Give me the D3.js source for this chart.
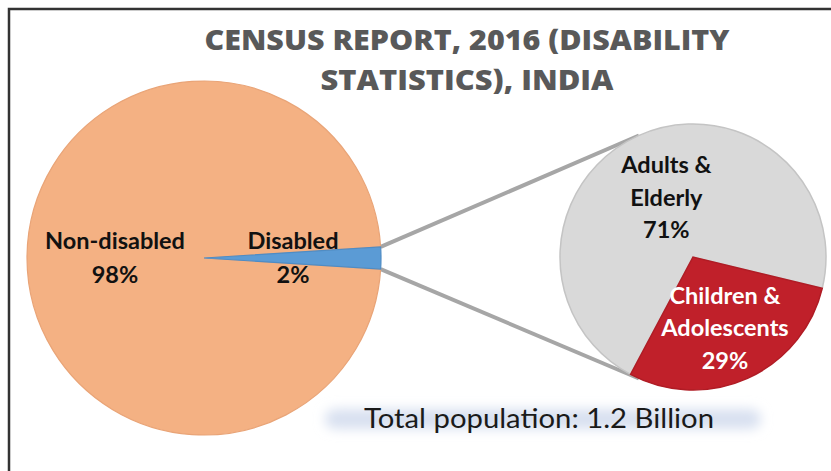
<!DOCTYPE html>
<html>
<head>
<meta charset="utf-8">
<script src="https://cdn.jsdelivr.net/npm/d3@7"></script>
<style>
    body { margin: 0; background: #fff; }
    svg { display: block; }
    text { font-family: Lato, "Open Sans", sans-serif; }
</style>
</head>
<body>
<div id="chart"></div>
<script>
// Chart data
const titleLines = ["CENSUS REPORT, 2016 (DISABILITY", "STATISTICS), INDIA"];
const mainCategories = ["Non-disabled", "Disabled"];
const mainValues = [98, 2];
const mainColors = ["#F4B183", "#5B9BD5"];
const subCategories = [["Adults &", "Elderly"], ["Children &", "Adolescents"]];
const subValues = [71, 29];
const subColors = ["#D9D9D9", "#C0202A"];
const subTextColors = ["#111", "#fff"];
const totalLabel = "Total population: 1.2 Billion";

const width = 831, height = 471;

const svg = d3.select("#chart").append("svg")
    .attr("width", width)
    .attr("height", height);

// Blur filter for the glow behind the total label
const defs = svg.append("defs");
defs.append("filter")
    .attr("id", "glow")
    .attr("x", "-20%").attr("y", "-150%")
    .attr("width", "140%").attr("height", "400%")
    .append("feGaussianBlur")
    .attr("stdDeviation", 6);

// Frame (only top and left edges are visible)
svg.append("path")
    .attr("d", `M9,${height} L9,9 L${width},9`)
    .attr("fill", "none")
    .attr("stroke", "#333")
    .attr("stroke-width", 2.5);

// Title
svg.selectAll(".title")
    .data(titleLines)
    .join("text")
    .attr("class", "title")
    .attr("x", 467)
    .attr("y", (d, i) => 50 + i * 40)
    .attr("text-anchor", "middle")
    .attr("textLength", (d, i) => i === 0 ? 525 : 293)
    .attr("lengthAdjust", "spacingAndGlyphs")
    .style("font-family", "'Open Sans', Lato, sans-serif")
    .style("font-size", "29px")
    .style("font-weight", "800")
    .style("fill", "#595959")
    .text(d => d);

// Geometry of the two pies
const main = { cx: 204, cy: 258, r: 177 };
const sub = { cx: 693, cy: 257, r: 133 };
const connectorAngle = 24 * Math.PI / 180; // where connectors meet the second pie

// Main pie: disabled slice centred on the right-hand side
const disabledShare = mainValues[1] / d3.sum(mainValues);
const mainStart = Math.PI / 2 + disabledShare * Math.PI;
const mainPie = d3.pie().sort(null)
    .startAngle(mainStart)
    .endAngle(mainStart + 2 * Math.PI);
const mainArcs = mainPie(mainValues);

const subStart = 208 * Math.PI / 180;
const subPie = d3.pie().sort(null)
    .startAngle(subStart)
    .endAngle(subStart + 2 * Math.PI);
const subArcs = subPie(subValues);

const polar = (c, r, a) => [c.cx + r * Math.sin(a), c.cy - r * Math.cos(a)];

// Connector lines from the disabled slice to the second pie
const dis = mainArcs[1];
const connectors = [
    [polar(main, main.r, dis.startAngle), polar(sub, sub.r, -connectorAngle)],
    [polar(main, main.r, dis.endAngle), polar(sub, sub.r, Math.PI + connectorAngle)]
];
svg.selectAll(".connector")
    .data(connectors)
    .join("line")
    .attr("class", "connector")
    .attr("x1", d => d[0][0])
    .attr("y1", d => d[0][1])
    .attr("x2", d => d[1][0])
    .attr("y2", d => d[1][1])
    .attr("stroke", "#A6A6A6")
    .attr("stroke-width", 4);

// Main pie
const mainArc = d3.arc().innerRadius(0).outerRadius(main.r);
const mainG = svg.append("g")
    .attr("transform", `translate(${main.cx},${main.cy})`);

mainG.selectAll("path")
    .data(mainArcs)
    .join("path")
    .attr("d", mainArc)
    .attr("fill", (d, i) => mainColors[i])
    .attr("stroke", (d, i) => i === 0 ? "#E9A477" : "#4F8CC4")
    .attr("stroke-width", 1.2);

const mainLabelArc = d3.arc().innerRadius(89).outerRadius(89);
mainArcs.forEach((d, i) => {
    const [x, y] = mainLabelArc.centroid(d);
    const lines = [mainCategories[i], `${mainValues[i]}%`];
    mainG.append("text")
        .attr("text-anchor", "middle")
        .style("font-size", "23.5px")
        .style("font-weight", "bold")
        .style("fill", "#111")
        .selectAll("tspan")
        .data(lines)
        .join("tspan")
        .attr("x", x)
        .attr("y", (l, j) => y + (j - (lines.length - 1) / 2) * 34 + 8)
        .text(l => l);
});

// Second pie (breakdown of the disabled population)
const subArc = d3.arc().innerRadius(0).outerRadius(sub.r);
const subG = svg.append("g")
    .attr("transform", `translate(${sub.cx},${sub.cy})`);

subG.selectAll("path")
    .data(subArcs)
    .join("path")
    .attr("d", subArc)
    .attr("fill", (d, i) => subColors[i])
    .attr("stroke", (d, i) => i === 0 ? "#C4C4C4" : "#B01C25")
    .attr("stroke-width", 1.5);

const subLabelRadius = [65, 78];
subArcs.forEach((d, i) => {
    const rr = subLabelRadius[i];
    const [x, y] = d3.arc().innerRadius(rr).outerRadius(rr).centroid(d);
    const lines = [...subCategories[i], `${subValues[i]}%`];
    subG.append("text")
        .attr("text-anchor", "middle")
        .style("font-size", "23.5px")
        .style("font-weight", "bold")
        .style("fill", subTextColors[i])
        .selectAll("tspan")
        .data(lines)
        .join("tspan")
        .attr("x", x)
        .attr("y", (l, j) => y + (j - (lines.length - 1) / 2) * 32.5 + 8)
        .text(l => l);
});

// Total population note with a soft glow behind it
svg.append("rect")
    .attr("x", 325)
    .attr("y", 409)
    .attr("width", 436)
    .attr("height", 20)
    .attr("rx", 10)
    .attr("fill", "#D8E0F0")
    .attr("filter", "url(#glow)");

svg.append("text")
    .attr("x", 539)
    .attr("y", 428)
    .attr("text-anchor", "middle")
    .attr("textLength", 350)
    .attr("lengthAdjust", "spacingAndGlyphs")
    .style("font-size", "27px")
    .style("fill", "#1a1a1a")
    .text(totalLabel);
</script>
</body>
</html>
